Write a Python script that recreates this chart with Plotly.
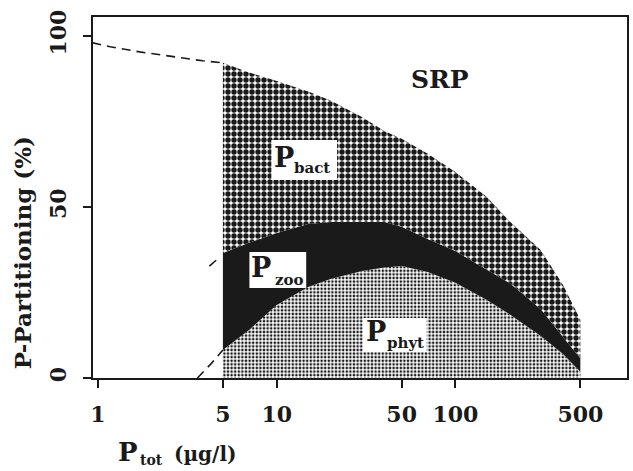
import plotly.graph_objects as go

# ---- data ----
p_tot = [5, 7, 10, 15, 20, 30, 40, 50, 70, 100, 150, 200, 300, 400, 500]
phyt_top = [8.2, 14.0, 21.3, 26.6, 28.9, 31.3, 32.3, 32.7, 31.0, 27.8, 22.8, 18.7, 12.3, 7.0, 1.8]
zoo_top = [36.5, 39.5, 42.4, 45.0, 45.6, 45.6, 45.6, 44.2, 40.6, 37.1, 31.6, 27.8, 20.2, 12.0, 5.8]
bact_top = [92.1, 89.3, 86.8, 83.7, 81.1, 76.3, 72.2, 69.9, 65.5, 60.2, 52.9, 45.9, 37.4, 27.2, 17.0]

srp_dash_x = [0.93, 1.17, 1.71, 2.62, 3.85, 5.0]
srp_dash_y = [98.0, 96.8, 95.3, 93.9, 92.7, 92.1]
zoo_dash_x = [4.2, 4.75]
zoo_dash_y = [32.7, 35.1]
phyt_dash_x = [3.6, 4.3, 5.0]
phyt_dash_y = [0.0, 4.2, 8.2]

x_ticks = [1, 5, 10, 50, 100, 500]
y_ticks = [0, 50, 100]

FONT = "DejaVu Serif"
INK = "#1a1a1a"

# plot-area geometry (pixels) used to place the text labels
ML, MR, MT, MB, W, H = 93, 4, 17, 93, 633, 471
PW, PH = W - ML - MR, H - MT - MB


def px(x):
    return (x - ML) / PW


def py(y):
    return (H - MB - y) / PH


fig = go.Figure()

# P_phyt: from 0 up to phyt_top
fig.add_trace(go.Scatter(
    x=p_tot + [p_tot[-1], p_tot[0]],
    y=phyt_top + [0, 0],
    fill="toself", mode="none", fillcolor=INK,
    fillpattern=dict(shape=".", size=3.6, solidity=0.42, fgcolor=INK, bgcolor="white",
                     fgopacity=1, fillmode="replace"),
    hoverinfo="skip", showlegend=False))

# P_zoo: between phyt_top and zoo_top
fig.add_trace(go.Scatter(
    x=p_tot + p_tot[::-1],
    y=zoo_top + phyt_top[::-1],
    fill="toself", mode="none", fillcolor=INK,
    hoverinfo="skip", showlegend=False))

# P_bact: between zoo_top and bact_top
fig.add_trace(go.Scatter(
    x=p_tot + p_tot[::-1],
    y=bact_top + zoo_top[::-1],
    fill="toself", mode="none", fillcolor=INK,
    fillpattern=dict(shape=".", size=6, solidity=0.64, fgcolor=INK, bgcolor="white",
                     fgopacity=1, fillmode="replace"),
    hoverinfo="skip", showlegend=False))

dash_line = dict(color=INK, width=1.6, dash="9px,6px")
for dx, dy in [(srp_dash_x, srp_dash_y), (zoo_dash_x, zoo_dash_y), (phyt_dash_x, phyt_dash_y)]:
    fig.add_trace(go.Scatter(x=dx, y=dy, mode="lines", line=dash_line,
                             hoverinfo="skip", showlegend=False))

# white label boxes
for x0, y0, x1, y1 in [(272, 140, 338, 180), (250, 252, 307, 288), (364, 318, 428, 352)]:
    fig.add_shape(type="rect", xref="paper", yref="paper",
                  x0=px(x0), x1=px(x1), y0=py(y1), y1=py(y0),
                  fillcolor="white", line=dict(width=0), layer="above")


def label(x, y, text, size, anchor="center"):
    fig.add_annotation(xref="paper", yref="paper", x=px(x), y=py(y), text=text,
                       showarrow=False, xanchor=anchor, yanchor="middle",
                       font=dict(family=FONT, size=size, color=INK, weight="bold"))


label(441, 79, "SRP", 25)
label(285, 157, "P", 27)
label(293, 168, "bact", 15, "left")
label(262, 267, "P", 27)
label(274, 280, "zoo", 15, "left")
label(377, 331, "P", 27)
label(386, 343, "phyt", 15, "left")

# axis titles
label(128, 452, "P", 26)
label(138, 460, "tot", 14, "left")
label(205, 454, "(µg/l)", 20)
fig.add_annotation(xref="paper", yref="paper", x=px(22), y=py(253),
                   text="P-Partitioning (%)", textangle=-90,
                   showarrow=False, font=dict(family=FONT, size=23, color=INK, weight="bold"),
                   xanchor="center", yanchor="middle")

fig.update_xaxes(type="log", range=[-0.0279, 2.960],
                 tickvals=x_ticks, ticktext=[str(v) for v in x_ticks],
                 showline=True, linecolor=INK, linewidth=2, mirror=True,
                 ticks="outside", ticklen=8, tickwidth=1.5, tickcolor=INK,
                 ticklabelstandoff=8,
                 showgrid=False, zeroline=False,
                 tickfont=dict(family=FONT, size=22, color=INK, weight="bold"))
fig.update_yaxes(range=[0, 105.5], tickvals=y_ticks, ticktext=[str(v) for v in y_ticks],
                 tickangle=-90,
                 showline=True, linecolor=INK, linewidth=2, mirror=True,
                 ticks="outside", ticklen=8, tickwidth=1.5, tickcolor=INK,
                 ticklabelstandoff=8,
                 showgrid=False, zeroline=False,
                 tickfont=dict(family=FONT, size=22, color=INK, weight="bold"))

fig.update_layout(width=W, height=H,
                  margin=dict(l=ML, r=MR, t=MT, b=MB),
                  paper_bgcolor="white", plot_bgcolor="white",
                  showlegend=False)

fig.write_html("out.html")
